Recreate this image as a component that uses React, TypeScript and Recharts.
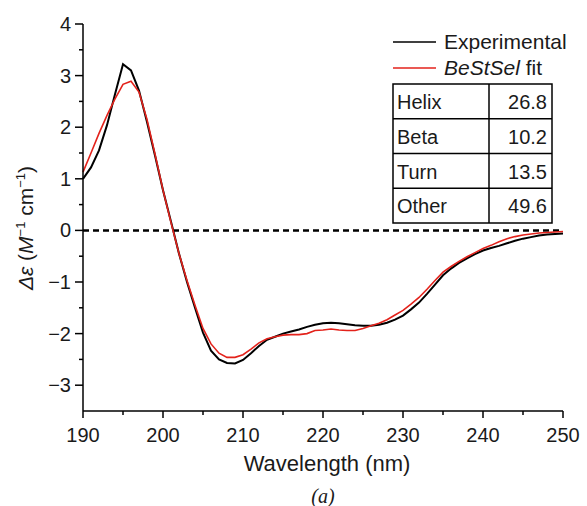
import {
  LineChart,
  Line,
  XAxis,
  YAxis,
  ReferenceLine,
  Legend,
  Label,
} from "recharts";

const FONT = "'Liberation Sans', Arial, Helvetica, sans-serif";

// wavelength (nm)
const wavelengths = [
  190, 191, 192, 193, 194, 195, 196, 197, 198, 199,
  200, 201, 202, 203, 204, 205, 206, 207, 208, 209,
  210, 211, 212, 213, 214, 215, 216, 217, 218, 219,
  220, 221, 222, 223, 224, 225, 226, 227, 228, 229,
  230, 231, 232, 233, 234, 235, 236, 237, 238, 239,
  240, 241, 242, 243, 244, 245, 246, 247, 248, 249,
  250,
];

// measured spectrum
const experimental = [
  1.0, 1.22, 1.55, 2.04, 2.64, 3.22, 3.1, 2.71, 2.1, 1.45,
  0.78, 0.17, -0.45, -1.0, -1.5, -1.98, -2.33, -2.5, -2.57, -2.58,
  -2.51, -2.38, -2.24, -2.12, -2.06, -2.0, -1.96, -1.92, -1.87, -1.83,
  -1.8, -1.79, -1.8, -1.82, -1.84, -1.85, -1.85, -1.83, -1.79, -1.73,
  -1.65, -1.53, -1.4, -1.23, -1.05, -0.87, -0.74, -0.63, -0.54, -0.46,
  -0.39, -0.34, -0.3, -0.25, -0.2, -0.16, -0.13, -0.1, -0.08, -0.07,
  -0.06,
];

// BeStSel fit
const bestselFit = [
  1.13, 1.5, 1.88, 2.23, 2.55, 2.83, 2.89, 2.68, 2.15, 1.48,
  0.78, 0.15, -0.45, -0.97, -1.45, -1.9, -2.2, -2.38, -2.46, -2.46,
  -2.41, -2.3, -2.18, -2.1, -2.06, -2.03, -2.02, -2.02, -2.0, -1.94,
  -1.93, -1.91, -1.93, -1.94, -1.94, -1.9, -1.85, -1.8, -1.73, -1.64,
  -1.55, -1.43, -1.3, -1.14, -0.97, -0.81, -0.7, -0.6, -0.51, -0.43,
  -0.35, -0.29, -0.22, -0.16, -0.12, -0.09, -0.07, -0.05, -0.04, -0.03,
  -0.02,
];

const structures = ["Helix", "Beta", "Turn", "Other"];
const fractions = ["26.8", "10.2", "13.5", "49.6"];

const xTicks = [190, 195, 200, 205, 210, 215, 220, 225, 230, 235, 240, 245, 250];
const yTicks = [-3, -2.5, -2, -1.5, -1, -0.5, 0, 0.5, 1, 1.5, 2, 2.5, 3, 3.5, 4];

const data = wavelengths.map((wl, i) => ({
  wl,
  exp: experimental[i],
  fit: bestselFit[i],
}));

function XTick(props: any) {
  const { x, y, payload } = props;
  const major = payload.value % 10 === 0;
  return (
    <g>
      <line x1={x} x2={x} y1={y} y2={y + (major ? 7 : 4)} stroke="#000" strokeWidth={1.5} />
      {major && (
        <text x={x} y={y + 31} textAnchor="middle" fontFamily={FONT} fontSize={20} fill="#1a1a1a">
          {payload.value}
        </text>
      )}
    </g>
  );
}

function YTick(props: any) {
  const { x, y, payload } = props;
  const major = Number.isInteger(payload.value);
  const label = payload.value < 0 ? `\u2212${Math.abs(payload.value)}` : `${payload.value}`;
  return (
    <g>
      <line x1={x - (major ? 8 : 4)} x2={x} y1={y} y2={y} stroke="#000" strokeWidth={1.5} />
      {major && (
        <text x={x - 12} y={y + 7} textAnchor="end" fontFamily={FONT} fontSize={20} fill="#1a1a1a">
          {label}
        </text>
      )}
    </g>
  );
}

function LegendBox() {
  const rowH = 34.75;
  return (
    <svg width={170} height={200} style={{ overflow: "visible" }}>
      <line x1={1} x2={44} y1={14} y2={14} stroke="#000" strokeWidth={1.5} />
      <text x={52} y={21} fontFamily={FONT} fontSize={21} fill="#1a1a1a">
        Experimental
      </text>
      <line x1={1} x2={44} y1={40} y2={40} stroke="#e3221b" strokeWidth={1.5} />
      <text x={52} y={47} fontFamily={FONT} fontSize={21} fill="#1a1a1a">
        <tspan fontStyle="italic">BeStSel</tspan> fit
      </text>
      <rect x={1} y={56} width={159} height={rowH * 4} fill="none" stroke="#000" strokeWidth={1.5} />
      <line x1={97} x2={97} y1={56} y2={56 + rowH * 4} stroke="#000" strokeWidth={1.5} />
      {structures.map((s, i) => (
        <g key={s}>
          {i > 0 && (
            <line x1={1} x2={160} y1={56 + rowH * i} y2={56 + rowH * i} stroke="#000" strokeWidth={1.5} />
          )}
          <text x={5} y={56 + rowH * i + 25} fontFamily={FONT} fontSize={20} fill="#1a1a1a">
            {s}
          </text>
          <text x={155} y={56 + rowH * i + 25} textAnchor="end" fontFamily={FONT} fontSize={20} fill="#1a1a1a">
            {fractions[i]}
          </text>
        </g>
      ))}
    </svg>
  );
}

export default function App() {
  return (
    <div style={{ position: "absolute", left: 0, top: 0, width: 587, height: 506, background: "#fff" }}>
      <LineChart
        width={587}
        height={506}
        data={data}
        margin={{ top: 24, right: 24, bottom: 0, left: 0 }}
      >
        <XAxis
          dataKey="wl"
          type="number"
          domain={[190, 250]}
          ticks={xTicks}
          interval={0}
          height={95}
          tickSize={0}
          tickMargin={0}
          tickLine={false}
          tick={<XTick />}
          axisLine={{ stroke: "#000", strokeWidth: 1.5 }}
        >
          <Label
            content={() => (
              <g>
                <text x={327} y={471} textAnchor="middle" fontFamily={FONT} fontSize={22} fill="#1a1a1a">
                  Wavelength (nm)
                </text>
                <text x={323} y={503} textAnchor="middle" fontFamily="'Liberation Serif', 'Times New Roman', serif" fontStyle="italic" fontSize={20} fill="#1a1a1a">
                  (a)
                </text>
              </g>
            )}
          />
        </XAxis>
        <YAxis
          type="number"
          domain={[-3.5, 4]}
          ticks={yTicks}
          interval={0}
          width={83}
          tickSize={0}
          tickMargin={0}
          tickLine={false}
          tick={<YTick />}
          axisLine={{ stroke: "#000", strokeWidth: 1.5 }}
        >
          <Label
            content={() => (
              <text
                transform="translate(33, 228) rotate(-90)"
                textAnchor="middle"
                fontFamily={FONT}
                fontSize={21}
                fill="#1a1a1a"
              >
                <tspan fontStyle="italic">Δε</tspan>
                <tspan> (</tspan>
                <tspan fontStyle="italic">M</tspan>
                <tspan fontSize={13} dy={-8}>−1</tspan>
                <tspan dy={8}> cm</tspan>
                <tspan fontSize={13} dy={-8}>−1</tspan>
                <tspan dy={8}>)</tspan>
              </text>
            )}
          />
        </YAxis>
        <ReferenceLine y={0} stroke="#000" strokeWidth={2.5} strokeDasharray="6 4" />
        <Line
          dataKey="exp"
          type="linear"
          stroke="#000"
          strokeWidth={2}
          dot={false}
          isAnimationActive={false}
        />
        <Line
          dataKey="fit"
          type="linear"
          stroke="#e3221b"
          strokeWidth={1.6}
          dot={false}
          isAnimationActive={false}
        />
        <Legend
          layout="vertical"
          align="center"
          verticalAlign="middle"
          content={() => <LegendBox />}
          wrapperStyle={{ position: "absolute", left: 392, top: 28, width: 170, height: 200 }}
        />
      </LineChart>
    </div>
  );
}
